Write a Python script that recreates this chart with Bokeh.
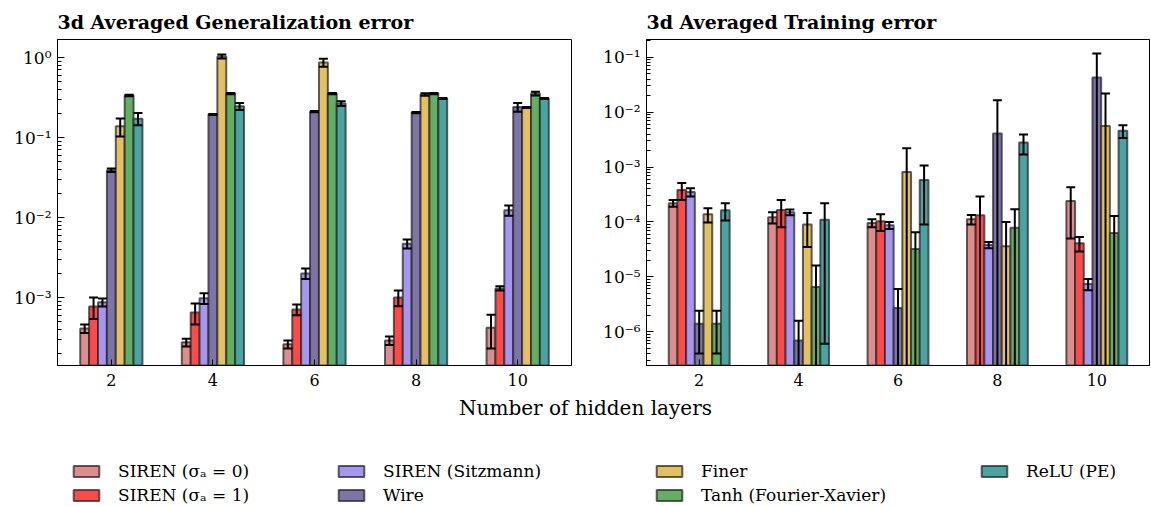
import numpy as np
from bokeh.plotting import figure
from bokeh.models import (ColumnDataSource, Range1d, FixedTicker, CustomJSTickFormatter,
                          Legend, LegendItem, Label)
from bokeh.layouts import row, column
from bokeh.transform import dodge
from bokeh.embed import file_html
from bokeh.resources import INLINE

# ---------------- data ----------------
layers = [2, 4, 6, 8, 10]
series_names = ["SIREN (σₐ = 0)", "SIREN (σₐ = 1)", "SIREN (Sitzmann)", "Wire",
                "Finer", "Tanh (Fourier-Xavier)", "ReLU (PE)"]
series_colors = ["#de8c8c", "#ff4a4a", "#a596f0", "#7e74aa", "#e5c062", "#62ae62", "#4ba4a4"]

# Generalization error (mean, std)
gen_siren0 = [4.1e-4, 2.75e-4, 2.6e-4, 2.9e-4, 4.2e-4]
gen_siren0_err = [0.5e-4, 0.3e-4, 0.3e-4, 0.35e-4, 1.9e-4]
gen_siren1 = [7.7e-4, 6.5e-4, 7.1e-4, 1.0e-3, 1.3e-3]
gen_siren1_err = [2.3e-4, 1.9e-4, 1.1e-4, 2.2e-4, 0.8e-4]
gen_sitz = [8.7e-4, 9.8e-4, 2.0e-3, 4.7e-3, 1.23e-2]
gen_sitz_err = [1.0e-4, 1.5e-4, 3e-4, 6e-4, 1.8e-3]
gen_wire = [0.039, 0.194, 0.211, 0.205, 0.24]
gen_wire_err = [0.002, 0.003, 0.004, 0.004, 0.03]
gen_finer = [0.138, 1.03, 0.866, 0.345, 0.237]
gen_finer_err = [0.035, 0.06, 0.1, 0.012, 0.003]
gen_tanh = [0.335, 0.354, 0.354, 0.354, 0.354]
gen_tanh_err = [0.008, 0.006, 0.006, 0.007, 0.02]
gen_relu = [0.172, 0.245, 0.266, 0.307, 0.307]
gen_relu_err = [0.03, 0.025, 0.018, 0.005, 0.005]

# Training error (mean, std)
train_siren0 = [2.2e-4, 1.22e-4, 9.6e-5, 1.12e-4, 2.4e-4]
train_siren0_err = [0.3e-4, 0.28e-4, 0.16e-4, 0.22e-4, 1.9e-4]
train_siren1 = [3.8e-4, 1.65e-4, 1.03e-4, 1.33e-4, 4.1e-5]
train_siren1_err = [1.3e-4, 0.85e-4, 0.35e-4, 1.57e-4, 1.2e-5]
train_sitz = [3.5e-4, 1.5e-4, 8.7e-5, 3.8e-5, 7.4e-6]
train_sitz_err = [0.6e-4, 0.18e-4, 0.13e-4, 0.5e-5, 1.7e-6]
train_wire = [1.4e-6, 6.9e-7, 2.7e-6, 4.1e-3, 4.3e-2]
train_wire_err = [1.0e-6, 0.9e-6, 3.3e-6, 1.24e-2, 7.4e-2]
train_finer = [1.38e-4, 9e-5, 8.1e-4, 3.6e-5, 5.6e-3]
train_finer_err = [0.4e-4, 5.5e-5, 1.4e-3, 6.4e-5, 1.64e-2]
train_tanh = [1.4e-6, 6.5e-6, 3.2e-5, 7.8e-5, 6.3e-5]
train_tanh_err = [1.0e-6, 9.5e-6, 3.3e-5, 9.2e-5, 6.5e-5]
train_relu = [1.63e-4, 1.1e-4, 5.8e-4, 2.8e-3, 4.6e-3]
train_relu_err = [0.57e-4, 1.094e-4, 4.9e-4, 1.1e-3, 1.2e-3]

gen_means = [gen_siren0, gen_siren1, gen_sitz, gen_wire, gen_finer, gen_tanh, gen_relu]
gen_errs = [gen_siren0_err, gen_siren1_err, gen_sitz_err, gen_wire_err, gen_finer_err, gen_tanh_err, gen_relu_err]
train_means = [train_siren0, train_siren1, train_sitz, train_wire, train_finer, train_tanh, train_relu]
train_errs = [train_siren0_err, train_siren1_err, train_sitz_err, train_wire_err, train_finer_err, train_tanh_err, train_relu_err]

# ---------------- style ----------------
FONT = "DejaVu Serif"
BAR_W = 0.175
EDGE = dict(line_color="#2a2a2a", line_alpha=0.75, line_width=2)
SUP_JS = """
const sup = {"-":"\u207b","0":"\u2070","1":"\u00b9","2":"\u00b2","3":"\u00b3","4":"\u2074",
             "5":"\u2075","6":"\u2076","7":"\u2077","8":"\u2078","9":"\u2079"};
const e = Math.round(Math.log10(tick));
return "10" + String(e).split("").map(c => sup[c]).join("");
"""
FIG_H = 397


def make_panel(title, means, errs, yr, major, width, mbl, mbr):
    p = figure(width=width, height=FIG_H, x_range=Range1d(0.94, 11.06), y_range=Range1d(*yr),
               y_axis_type="log", output_backend="svg", toolbar_location=None,
               min_border_left=mbl, min_border_right=mbr, min_border_top=39,
               min_border_bottom=FIG_H - 39 - 326)
    p.title.text = title
    p.title.text_font = FONT
    p.title.text_font_style = "bold"
    p.title.text_font_size = "19px"
    p.title.text_color = "black"
    p.title.align = "left"
    p.title.standoff = 13
    p.xgrid.visible = False
    p.ygrid.visible = False
    p.outline_line_color = "black"
    p.outline_line_width = 1
    p.outline_line_alpha = 1
    p.background_fill_color = "white"
    p.border_fill_color = "white"

    for i, (m, e) in enumerate(zip(means, errs)):
        m = np.array(m, dtype=float)
        src = ColumnDataSource(dict(x=layers, top=m, bottom=[1e-14] * len(m)))
        xd = dodge("x", (i - 3) * BAR_W, range=p.x_range)
        p.vbar(x=xd, top="top", bottom="bottom", width=BAR_W, source=src,
               fill_color=series_colors[i], fill_alpha=1.0, **EDGE)
    for i, (m, e) in enumerate(zip(means, errs)):
        m = np.array(m, dtype=float)
        e = np.array(e, dtype=float)
        lower = np.where(m - e > 0, m - e, 1e-14)
        src = ColumnDataSource(dict(x=layers, upper=m + e, lower=lower))
        xd = dodge("x", (i - 3) * BAR_W, range=p.x_range)
        p.segment(x0=xd, x1=xd, y0="lower", y1="upper", source=src,
                  line_color="black", line_width=2)
        p.dash(x=xd, y="upper", size=9, source=src, line_color="black", line_width=2)
        p.dash(x=xd, y="lower", size=9, source=src, line_color="black", line_width=2)

    # axes
    p.xaxis.ticker = FixedTicker(ticks=layers)
    p.xaxis.major_tick_in = 6
    p.xaxis.major_tick_out = 0
    p.xaxis.minor_tick_line_color = None
    p.xaxis.major_label_text_font = FONT
    p.xaxis.major_label_text_font_size = "16px"
    p.xaxis.major_label_text_color = "black"
    p.xaxis.major_label_standoff = 8
    p.xaxis.axis_line_color = "black"

    minor = []
    for k in range(major[0] - 1, major[-1] + 1):
        for mlt in range(2, 10):
            minor.append(mlt * 10.0 ** k)
    p.yaxis.ticker = FixedTicker(ticks=[10.0 ** k for k in major], minor_ticks=minor)
    p.yaxis.formatter = CustomJSTickFormatter(code=SUP_JS)
    p.yaxis.major_tick_in = 7
    p.yaxis.major_tick_out = 0
    p.yaxis.minor_tick_in = 4
    p.yaxis.minor_tick_out = 0
    p.yaxis.major_label_text_font = FONT
    p.yaxis.major_label_text_font_size = "17px"
    p.yaxis.major_label_text_color = "black"
    p.yaxis.major_label_standoff = 6
    p.yaxis.axis_line_color = "black"
    return p


p1 = make_panel("3d Averaged Generalization error", gen_means, gen_errs,
                (1.413e-4, 1.679), [-3, -2, -1, 0], 600, 57, 29)
p2 = make_panel("3d Averaged Training error", train_means, train_errs,
                (2.42e-7, 0.211), [-6, -5, -4, -3, -2, -1], 551, 34, 2)

# ---------------- legend + x label strip ----------------
LW, LH = 1151, 109
lf = figure(width=LW, height=LH, x_range=Range1d(0, LW), y_range=Range1d(LH, 0),
            output_backend="svg", toolbar_location=None,
            min_border=0, min_border_left=0, min_border_right=0, min_border_top=0, min_border_bottom=0,
            x_axis_location=None, y_axis_location=None)
lf.xgrid.visible = False
lf.ygrid.visible = False
lf.outline_line_color = None

lf.add_layout(Label(x=585, y=10, text="Number of hidden layers", text_align="center",
                    text_baseline="middle", text_font=FONT, text_font_size="20px",
                    text_color="black"))

# hidden renderers (same data as the left panel) that only supply legend swatches
proxy = []
for i, c in enumerate(series_colors):
    r = lf.vbar(x=layers, top=gen_means[i], width=BAR_W, fill_color=c, fill_alpha=1.0,
                visible=False, **EDGE)
    proxy.append(r)

col_x = [70, 335, 653, 978]
col_items = [[0, 1], [2, 3], [4, 5], [6]]
for cx, idxs in zip(col_x, col_items):
    items = [LegendItem(label=series_names[j], renderers=[proxy[j]]) for j in idxs]
    leg = Legend(items=items, location=(cx, 1 + (2 - len(idxs)) * 24), orientation="vertical",
                 glyph_width=32, glyph_height=14, label_height=20, label_width=20,
                 spacing=4, padding=0, margin=0, label_standoff=16,
                 label_text_font=FONT, label_text_font_size="17px", label_text_color="black",
                 border_line_alpha=0, background_fill_alpha=0, click_policy="none")
    lf.add_layout(leg)

layout = column(row(p1, p2), lf)
open("out.html", "w").write(file_html(layout, INLINE))
